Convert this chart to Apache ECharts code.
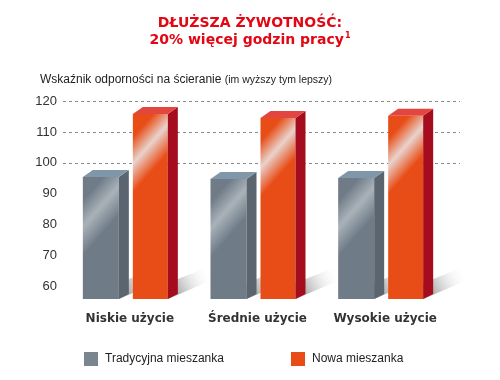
<!DOCTYPE html>
<html>
<head>
<meta charset="utf-8">
<script src="https://cdn.jsdelivr.net/npm/echarts@6/dist/echarts.min.js"></script>
<style>html,body{margin:0;padding:0;background:#fff}#c{width:500px;height:380px}</style>
</head>
<body>
<div id="c"></div>
<script>
const categories = ['Niskie użycie', 'Średnie użycie', 'Wysokie użycie'];
const seriesNames = ['Tradycyjna mieszanka', 'Nowa mieszanka'];
const traditional = [95.4, 94.8, 95.1];
const newMix = [115.8, 114.5, 115.2];
const yTicks = [60, 70, 80, 90, 100, 110, 120];
const gridLineValues = [100, 110, 120];
const yMin = 56, yMax = 120;

const DX = 10, DY = -7;
const palettes = [
  { front: '#6f7c88', hi: '#aab2b9', side: '#5a6570', top: '#7f97a9', off: [-47, -11] },
  { front: '#e84d17', hi: '#e9d2cc', side: '#a50c1d', top: '#e2463f', off: [3, 38] }
];

function makeRender(k) {
  const p = palettes[k];
  return function (params, api) {
    const cat = api.value(0), val = api.value(1);
    const t = api.coord([cat, val]);
    const b = api.coord([cat, yMin]);
    const L = t[0] + p.off[0], R = t[0] + p.off[1], T = t[1], B = b[1];
    const grad = {
      type: 'linear', global: true,
      x: L - 5, y: T - 5, x2: L + 55, y2: T + 48,
      colorStops: [
        { offset: 0, color: p.front },
        { offset: 0.28, color: p.front },
        { offset: 0.5, color: p.hi },
        { offset: 0.74, color: p.front },
        { offset: 1, color: p.front }
      ]
    };
    const shadow = {
      type: 'linear', global: true,
      x: R + DX - 4, y: B - 6, x2: R + DX + 32, y2: B - 26,
      colorStops: [
        { offset: 0, color: 'rgba(120,120,120,0.7)' },
        { offset: 1, color: 'rgba(255,255,255,0)' }
      ]
    };
    return {
      type: 'group',
      children: [
        { type: 'polygon', shape: { points: [[R, B - 16], [R + DX + 30, B - 32], [R + DX + 32, B - 18], [R, B]] }, style: { fill: shadow } },
        { type: 'rect', shape: { x: L, y: T, width: R - L, height: B - T }, style: { fill: grad } },
        { type: 'polygon', shape: { points: [[R, T], [R + DX, T + DY], [R + DX, B + DY + 2], [R, B]] }, style: { fill: p.side } },
        { type: 'polygon', shape: { points: [[L, T], [L + DX, T + DY], [R + DX, T + DY], [R, T]] }, style: { fill: p.top } }
      ]
    };
  };
}

const chart = echarts.init(document.getElementById('c'), null, { renderer: 'canvas' });
chart.setOption({
  animation: false,
  backgroundColor: '#fff',
  title: {
    left: 'center', top: 10,
    text: '{a|DŁUŻSZA ŻYWOTNOŚĆ:}\n{a|20% więcej godzin pracy}{s|1}',
    textStyle: {
      rich: {
        a: { fontFamily: 'DejaVu Sans', fontWeight: 'bold', fontSize: 14, color: '#e30613', lineHeight: 17 },
        s: { fontFamily: 'DejaVu Sans', fontWeight: 'bold', fontSize: 8, color: '#e30613', verticalAlign: 'top', padding: [0, 0, 8, 1] }
      }
    }
  },
  graphic: [{
    type: 'text', left: 40, top: 74,
    style: {
      text: '{m|Wskaźnik odporności na ścieranie} {n|(im wyższy tym lepszy)}',
      rich: {
        m: { fontFamily: 'Liberation Sans', fontSize: 12, fill: '#222' },
        n: { fontFamily: 'Liberation Sans', fontSize: 10.5, fill: '#222' }
      }
    }
  }],
  legend: [
    { data: [seriesNames[0]], left: 84, top: 352, padding: 0, itemWidth: 14, itemHeight: 14, icon: 'rect',
      textStyle: { fontFamily: 'Liberation Sans', fontSize: 12, color: '#222', padding: [0, 0, 0, 2] }, selectedMode: false },
    { data: [seriesNames[1]], left: 291, top: 352, padding: 0, itemWidth: 14, itemHeight: 14, icon: 'rect',
      textStyle: { fontFamily: 'Liberation Sans', fontSize: 12, color: '#222', padding: [0, 0, 0, 2] }, selectedMode: false }
  ],
  grid: [
    { left: 63, right: 40, top: 101, bottom: 81 },
    { left: 66, right: 51, top: 101, bottom: 81 }
  ],
  xAxis: [
    { type: 'category', gridIndex: 0, data: categories, show: false },
    { type: 'category', gridIndex: 1, data: categories,
      axisLine: { show: false }, axisTick: { show: false },
      axisLabel: { interval: 0, margin: 14, fontFamily: 'DejaVu Sans', fontWeight: 'bold', fontSize: 12, color: '#333' } }
  ],
  yAxis: [
    { type: 'value', gridIndex: 0, min: yMin, max: yMax,
      axisLine: { show: false }, axisTick: { show: false }, splitLine: { show: false },
      axisLabel: { customValues: yTicks, margin: 6, fontFamily: 'Liberation Sans', fontSize: 13, color: '#333' } },
    { type: 'value', gridIndex: 1, min: yMin, max: yMax, show: false, splitLine: { show: false } }
  ],
  series: [
    { type: 'line', xAxisIndex: 0, yAxisIndex: 0, data: [], silent: true, z: 1,
      markLine: { silent: true, symbol: 'none', label: { show: false }, z: 1,
        lineStyle: { type: [3, 3], color: '#8a8a8a', width: 1 },
        data: gridLineValues.map(v => ({ yAxis: v })) } },
    { type: 'custom', name: seriesNames[0], xAxisIndex: 1, yAxisIndex: 1, z: 5,
      itemStyle: { color: '#7a8590' }, renderItem: makeRender(0),
      encode: { x: 0, y: 1 }, data: traditional.map((v, i) => [i, v]) },
    { type: 'custom', name: seriesNames[1], xAxisIndex: 1, yAxisIndex: 1, z: 6,
      itemStyle: { color: '#e84d17' }, renderItem: makeRender(1),
      encode: { x: 0, y: 1 }, data: newMix.map((v, i) => [i, v]) }
  ]
});
</script>
</body>
</html>
